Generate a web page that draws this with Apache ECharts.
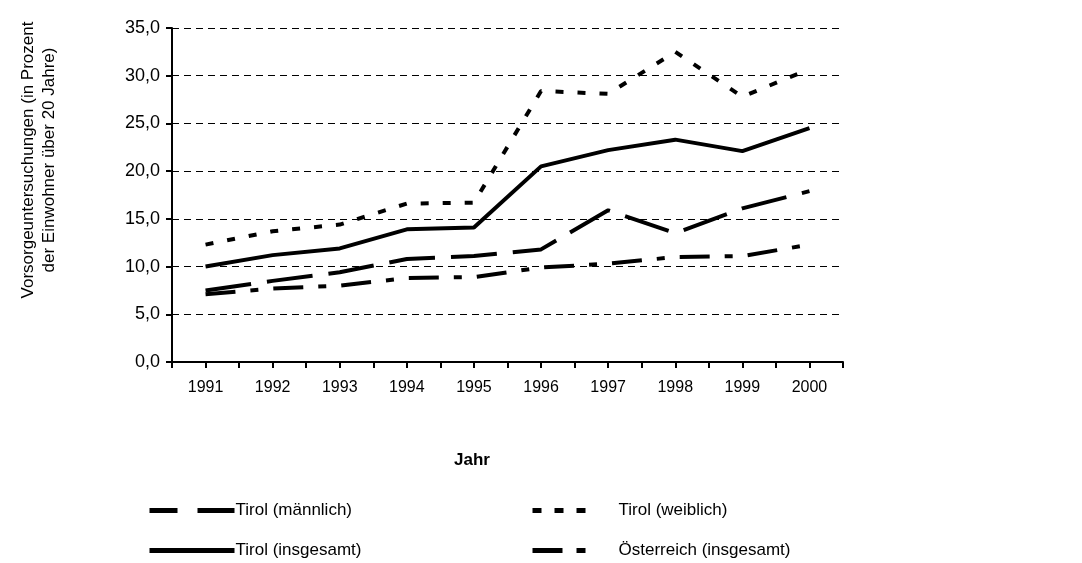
<!DOCTYPE html>
<html>
<head>
<meta charset="utf-8">
<script src="https://cdn.jsdelivr.net/npm/echarts@6/dist/echarts.min.js"></script>
<style>
  html, body { margin: 0; padding: 0; background: #fff; }
  #chart { width: 1082px; height: 563px; }
</style>
</head>
<body>
<div id="chart"></div>
<script>
// Daten
var jahre = ['1991', '1992', '1993', '1994', '1995', '1996', '1997', '1998', '1999', '2000'];
var tirolMaennlich = [7.5, 8.5, 9.4, 10.8, 11.1, 11.8, 15.9, 13.5, 16.1, 17.9];
var tirolWeiblich = [12.3, 13.7, 14.4, 16.6, 16.7, 28.4, 28.1, 32.5, 27.8, 30.7];
var tirolGesamt = [10.0, 11.2, 11.9, 13.9, 14.1, 20.5, 22.2, 23.3, 22.1, 24.5];
var oesterreichGesamt = [7.1, 7.7, 8.0, 8.8, 8.9, 9.9, 10.3, 11.0, 11.1, 12.3];

(function () {
  var chart = echarts.init(document.getElementById('chart'));
  var font = 'Liberation Sans, Arial, sans-serif';

  // Hilfsachse nur für die Teilstriche (Mitte + Grenze jeder Kategorie)
  var tickSlots = [];
  for (var i = 0; i <= jahre.length * 2; i++) tickSlots.push('');

  // eine Legende pro Eintrag, damit jede ihr eigenes Strichmuster bekommt
  function legendAt(name, left, top, dash) {
    return {
      data: [name],
      left: left,
      top: top,
      itemWidth: 85,
      itemHeight: 14,
      itemGap: 0,
      itemStyle: { opacity: 0 },
      lineStyle: { width: 5, type: dash, color: '#000' },
      textStyle: { fontFamily: font, fontSize: 17, color: '#000', padding: [0, 0, 0, -4] },
      selectedMode: false
    };
  }

  var option = {
    animation: false,
    backgroundColor: '#fff',
    grid: { left: 172, right: 239, top: 28, bottom: 201 },
    legend: [
      legendAt('Tirol (männlich)', 142, 497, [28, 20, 40, 0]),
      legendAt('Tirol (weiblich)', 525, 497, [9, 13, 9, 13, 9, 100]),
      legendAt('Tirol (insgesamt)', 142, 537, 'solid'),
      legendAt('Österreich (insgesamt)', 525, 537, [30, 14, 9, 100])
    ],
    xAxis: [
      {
        type: 'category',
        data: jahre,
        boundaryGap: true,
        axisLine: { lineStyle: { color: '#000', width: 2 } },
        axisTick: { show: false },
        axisLabel: { color: '#000', fontFamily: font, fontSize: 16, margin: 18 }
      },
      {
        type: 'category',
        data: tickSlots,
        position: 'bottom',
        boundaryGap: false,
        axisLine: { show: false },
        axisTick: { show: true, length: 6, lineStyle: { color: '#000', width: 2 } },
        axisLabel: { show: false }
      }
    ],
    yAxis: {
      type: 'value',
      min: 0,
      max: 35,
      interval: 5,
      axisLine: { show: true, lineStyle: { color: '#000', width: 2 } },
      axisTick: { show: true, length: 6, lineStyle: { color: '#000', width: 2 } },
      axisLabel: {
        color: '#000', fontFamily: font, fontSize: 18, margin: 12,
        formatter: function (v) { return v.toFixed(1).replace('.', ','); }
      },
      splitLine: { lineStyle: { color: '#000', width: 1, type: [7, 5] } }
    },
    graphic: [
      {
        type: 'text',
        x: 39,
        y: 160,
        rotation: Math.PI / 2,
        style: {
          text: 'Vorsorgeuntersuchungen (in Prozent\nder Einwohner über 20 Jahre)',
          fontFamily: font,
          fontSize: 17,
          fill: '#000',
          align: 'center',
          verticalAlign: 'middle',
          lineHeight: 21
        }
      },
      {
        type: 'text',
        x: 472,
        y: 460,
        style: {
          text: 'Jahr',
          fontFamily: font,
          fontSize: 17,
          fontWeight: 'bold',
          fill: '#000',
          align: 'center',
          verticalAlign: 'middle'
        }
      }
    ],
    series: [
      {
        name: 'Tirol (männlich)',
        type: 'line',
        data: tirolMaennlich,
        symbol: 'none',
        color: '#000',
        lineStyle: { color: '#000', width: 4, type: [46, 16] }
      },
      {
        name: 'Tirol (weiblich)',
        type: 'line',
        data: tirolWeiblich,
        symbol: 'none',
        color: '#000',
        lineStyle: { color: '#000', width: 4, type: [8, 14] }
      },
      {
        name: 'Tirol (insgesamt)',
        type: 'line',
        data: tirolGesamt,
        symbol: 'none',
        color: '#000',
        lineStyle: { color: '#000', width: 4 }
      },
      {
        name: 'Österreich (insgesamt)',
        type: 'line',
        data: oesterreichGesamt,
        symbol: 'none',
        color: '#000',
        lineStyle: { color: '#000', width: 4, type: [30, 15, 8, 15] }
      }
    ]
  };

  chart.setOption(option);
  window.addEventListener('resize', function () {
    chart.resize();
  });
})();
</script>
</body>
</html>
